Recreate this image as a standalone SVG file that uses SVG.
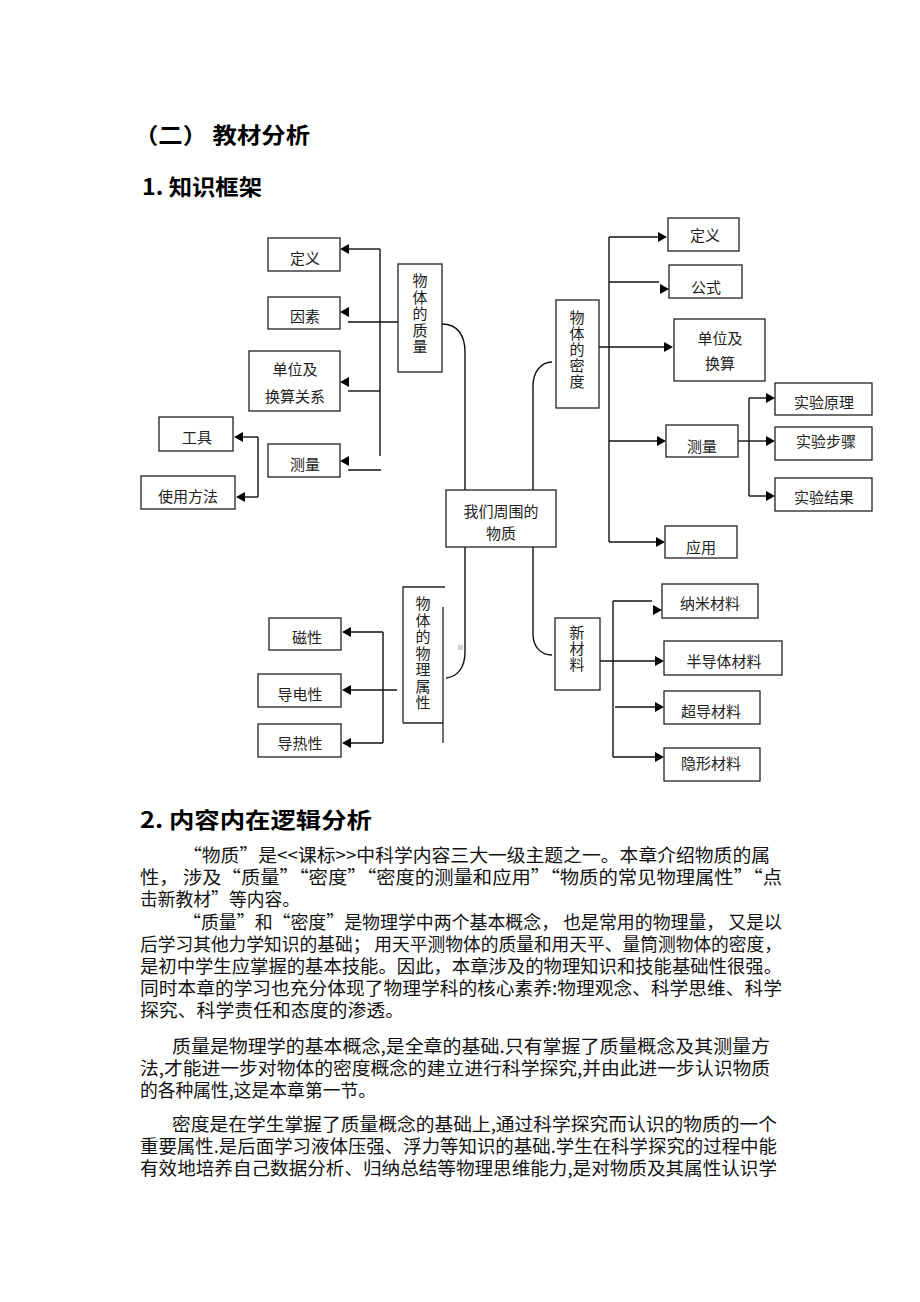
<svg xmlns="http://www.w3.org/2000/svg" xmlns:xlink="http://www.w3.org/1999/xlink" width="920" height="1302" viewBox="0 0 920 1302">
<style>
.box{fill:#fff;stroke:#222;stroke-width:1.3}
.ln{fill:none;stroke:#111;stroke-width:1.4}
.lbl{font-family:"Noto Sans CJK SC",sans-serif;font-size:15px;fill:#222;text-anchor:middle}
.h{font-family:"Noto Sans CJK SC",sans-serif;font-weight:bold;font-size:22px;fill:#000}
.p{font-family:"Noto Sans CJK SC",sans-serif;font-size:18px;fill:#111}
</style>
<defs>
<path id="al" d="M0,0 L9,-5 L9,5 Z" fill="#000"/>
<path id="ar" d="M0,0 L-9,-5 L-9,5 Z" fill="#000"/>
</defs>
<rect width="920" height="1302" fill="#fff"/>

<g id="headings">
<text class="h" x="134" y="143" textLength="176" lengthAdjust="spacingAndGlyphs">（二） 教材分析</text>
<text class="h" x="142" y="195" textLength="120" lengthAdjust="spacingAndGlyphs">1. 知识框架</text>
<text class="h" x="140" y="828" textLength="232" lengthAdjust="spacingAndGlyphs">2. 内容内在逻辑分析</text>
</g>

<g id="connectors">
<!-- left mass branch -->
<line class="ln" x1="380" y1="249" x2="380" y2="456"/>
<line class="ln" x1="348" y1="249" x2="380" y2="249"/>
<line class="ln" x1="348" y1="322" x2="398" y2="322"/>
<line class="ln" x1="348" y1="391" x2="380" y2="391"/>
<line class="ln" x1="348" y1="470" x2="381" y2="470"/>
<use href="#al" x="340" y="249"/>
<use href="#al" x="340" y="312"/>
<use href="#al" x="340" y="382"/>
<use href="#al" x="340" y="461"/>
<line class="ln" x1="258" y1="437" x2="258" y2="497"/>
<line class="ln" x1="240" y1="437" x2="258" y2="437"/>
<line class="ln" x1="242" y1="497" x2="258" y2="497"/>
<use href="#al" x="234" y="437"/>
<use href="#al" x="236" y="497"/>
<!-- curves from center -->
<path class="ln" d="M442,324 C458,324 465,336 465,352 L465,490"/>
<path class="ln" d="M533,490 L533,386 C533,372 541,362 552,362"/>
<path class="ln" d="M465,547 L465,652 C465,668 457,677 446,678"/>
<path class="ln" d="M533,547 L533,634 C533,647 541,655 552,655"/>
<!-- density branch -->
<line class="ln" x1="609" y1="237" x2="609" y2="542"/>
<line class="ln" x1="609" y1="237" x2="659" y2="237"/>
<use href="#ar" x="667" y="237"/>
<line class="ln" x1="609" y1="282" x2="659" y2="282"/>
<use href="#ar" x="669" y="289"/>
<line class="ln" x1="599" y1="347" x2="665" y2="347"/>
<use href="#ar" x="673" y="347"/>
<line class="ln" x1="609" y1="441" x2="658" y2="441"/>
<use href="#ar" x="666" y="441"/>
<line class="ln" x1="609" y1="542" x2="657" y2="542"/>
<use href="#ar" x="665" y="542"/>
<line class="ln" x1="749" y1="398" x2="749" y2="496"/>
<line class="ln" x1="738" y1="441" x2="767" y2="441"/>
<line class="ln" x1="749" y1="398" x2="767" y2="398"/>
<line class="ln" x1="749" y1="496" x2="767" y2="496"/>
<use href="#ar" x="775" y="398"/>
<use href="#ar" x="775" y="441"/>
<use href="#ar" x="775" y="496"/>
<!-- physical property branch -->
<line class="ln" x1="383" y1="632" x2="383" y2="743"/>
<line class="ln" x1="350" y1="632" x2="383" y2="632"/>
<line class="ln" x1="350" y1="690" x2="397" y2="690"/>
<line class="ln" x1="350" y1="743" x2="383" y2="743"/>
<use href="#al" x="342" y="632"/>
<use href="#al" x="342" y="690"/>
<use href="#al" x="342" y="743"/>
<!-- new materials branch -->
<line class="ln" x1="613" y1="601" x2="613" y2="757"/>
<line class="ln" x1="613" y1="601" x2="652" y2="601"/>
<use href="#ar" x="662" y="610"/>
<line class="ln" x1="600" y1="661" x2="656" y2="661"/>
<use href="#ar" x="664" y="661"/>
<line class="ln" x1="615" y1="707" x2="656" y2="707"/>
<use href="#ar" x="664" y="707"/>
<line class="ln" x1="613" y1="757" x2="656" y2="757"/>
<use href="#ar" x="664" y="757"/>
<rect x="458" y="645" width="5" height="5" fill="#d0d0d0"/>
</g>

<g id="n-center">
<rect class="box" x="446" y="490" width="110" height="57"/>
<text class="lbl" x="501" y="517">我们周围的</text>
<text class="lbl" x="501" y="539">物质</text>
</g>

<g id="n-mass">
<rect class="box" x="398" y="264" width="44" height="108"/>
<text class="lbl" x="420" y="286"><tspan x="420">物</tspan><tspan x="420" dy="16.5">体</tspan><tspan x="420" dy="16.5">的</tspan><tspan x="420" dy="16.5">质</tspan><tspan x="420" dy="16.5">量</tspan></text>
</g>
<g id="n-m-def"><rect class="box" x="268" y="238" width="72" height="33"/><text class="lbl" x="305" y="264">定义</text></g>
<g id="n-m-factor"><rect class="box" x="268" y="297" width="72" height="32"/><text class="lbl" x="305" y="322">因素</text></g>
<g id="n-m-unit"><rect class="box" x="249" y="351" width="91" height="60"/><text class="lbl" x="295" y="375">单位及</text><text class="lbl" x="295" y="402">换算关系</text></g>
<g id="n-m-measure"><rect class="box" x="268" y="444" width="72" height="33"/><text class="lbl" x="305" y="470">测量</text></g>
<g id="n-tool"><rect class="box" x="159" y="417" width="74" height="34"/><text class="lbl" x="197" y="443">工具</text></g>
<g id="n-usage"><rect class="box" x="141" y="476" width="94" height="33"/><text class="lbl" x="188" y="502">使用方法</text></g>

<g id="n-density">
<rect class="box" x="556" y="300" width="43" height="108"/>
<text class="lbl" x="577" y="323"><tspan x="577">物</tspan><tspan x="577" dy="16">体</tspan><tspan x="577" dy="16">的</tspan><tspan x="577" dy="16">密</tspan><tspan x="577" dy="16">度</tspan></text>
</g>
<g id="n-d-def"><rect class="box" x="668" y="218" width="71" height="33"/><text class="lbl" x="705" y="241">定义</text></g>
<g id="n-d-formula"><rect class="box" x="669" y="265" width="73" height="33"/><text class="lbl" x="706" y="293">公式</text></g>
<g id="n-d-unit"><rect class="box" x="674" y="319" width="91" height="62"/><text class="lbl" x="720" y="344">单位及</text><text class="lbl" x="720" y="369">换算</text></g>
<g id="n-d-measure"><rect class="box" x="666" y="425" width="72" height="32"/><text class="lbl" x="702" y="452">测量</text></g>
<g id="n-principle"><rect class="box" x="775" y="383" width="97" height="32"/><text class="lbl" x="824" y="408">实验原理</text></g>
<g id="n-steps"><rect class="box" x="775" y="427" width="97" height="33"/><text class="lbl" x="826" y="447">实验步骤</text></g>
<g id="n-result"><rect class="box" x="775" y="478" width="97" height="33"/><text class="lbl" x="824" y="503">实验结果</text></g>
<g id="n-d-apply"><rect class="box" x="665" y="526" width="72" height="32"/><text class="lbl" x="701" y="553">应用</text></g>

<g id="n-physprop">
<path d="M403,723 L403,587 L445,587 M403,723 L443,723" fill="none" stroke="#222" stroke-width="1.3"/>
<line x1="443" y1="607" x2="443" y2="743" stroke="#222" stroke-width="1.3"/>
<text class="lbl" x="423" y="609"><tspan x="423">物</tspan><tspan x="423" dy="16.5">体</tspan><tspan x="423" dy="16.5">的</tspan><tspan x="423" dy="16.5">物</tspan><tspan x="423" dy="16.5">理</tspan><tspan x="423" dy="16.5">属</tspan><tspan x="423" dy="16.5">性</tspan></text>
</g>
<g id="n-magnet"><rect class="box" x="269" y="618" width="72" height="32"/><text class="lbl" x="307" y="643">磁性</text></g>
<g id="n-elec"><rect class="box" x="258" y="674" width="83" height="33"/><text class="lbl" x="300" y="700">导电性</text></g>
<g id="n-heat"><rect class="box" x="258" y="724" width="83" height="33"/><text class="lbl" x="300" y="749">导热性</text></g>

<g id="n-newmat">
<rect class="box" x="555" y="618" width="45" height="72"/>
<text class="lbl" x="577" y="638"><tspan x="577">新</tspan><tspan x="577" dy="16">材</tspan><tspan x="577" dy="16">料</tspan></text>
</g>
<g id="n-nano"><rect class="box" x="662" y="584" width="96" height="34"/><text class="lbl" x="710" y="609">纳米材料</text></g>
<g id="n-semi"><rect class="box" x="664" y="641" width="118" height="34"/><text class="lbl" x="724" y="667">半导体材料</text></g>
<g id="n-super"><rect class="box" x="664" y="691" width="96" height="33"/><text class="lbl" x="711" y="717">超导材料</text></g>
<g id="n-stealth"><rect class="box" x="664" y="748" width="96" height="33"/><text class="lbl" x="711" y="769">隐形材料</text></g>

<g id="paragraphs">
<text class="p" x="183" y="862" textLength="587" lengthAdjust="spacingAndGlyphs">“物质”是&lt;&lt;课标&gt;&gt;中科学内容三大一级主题之一。本章介绍物质的属</text>
<text class="p" x="140" y="884" textLength="642" lengthAdjust="spacingAndGlyphs">性，  涉及“质量”“密度”“密度的测量和应用”“物质的常见物理属性”“点</text>
<text class="p" x="140" y="906" textLength="160" lengthAdjust="spacingAndGlyphs">击新教材”等内容。</text>
<text class="p" x="183" y="929" textLength="599" lengthAdjust="spacingAndGlyphs">“质量”和“密度”是物理学中两个基本概念，  也是常用的物理量，  又是以</text>
<text class="p" x="140" y="951" textLength="642" lengthAdjust="spacingAndGlyphs">后学习其他力学知识的基础；  用天平测物体的质量和用天平、量筒测物体的密度，</text>
<text class="p" x="140" y="973" textLength="642" lengthAdjust="spacingAndGlyphs">是初中学生应掌握的基本技能。因此，本章涉及的物理知识和技能基础性很强。</text>
<text class="p" x="140" y="995" textLength="642" lengthAdjust="spacingAndGlyphs">同时本章的学习也充分体现了物理学科的核心素养:物理观念、科学思维、科学</text>
<text class="p" x="140" y="1017" textLength="264" lengthAdjust="spacingAndGlyphs">探究、科学责任和态度的渗透。</text>
<text class="p" x="172" y="1053" textLength="598" lengthAdjust="spacingAndGlyphs">质量是物理学的基本概念,是全章的基础.只有掌握了质量概念及其测量方</text>
<text class="p" x="140" y="1075" textLength="630" lengthAdjust="spacingAndGlyphs">法,才能进一步对物体的密度概念的建立进行科学探究,并由此进一步认识物质</text>
<text class="p" x="140" y="1097" textLength="236" lengthAdjust="spacingAndGlyphs">的各种属性,这是本章第一节。</text>
<text class="p" x="172" y="1131" textLength="605" lengthAdjust="spacingAndGlyphs">密度是在学生掌握了质量概念的基础上,通过科学探究而认识的物质的一个</text>
<text class="p" x="140" y="1153" textLength="637" lengthAdjust="spacingAndGlyphs">重要属性.是后面学习液体压强、浮力等知识的基础.学生在科学探究的过程中能</text>
<text class="p" x="140" y="1175" textLength="637" lengthAdjust="spacingAndGlyphs">有效地培养自己数据分析、归纳总结等物理思维能力,是对物质及其属性认识学</text>
</g>
</svg>
